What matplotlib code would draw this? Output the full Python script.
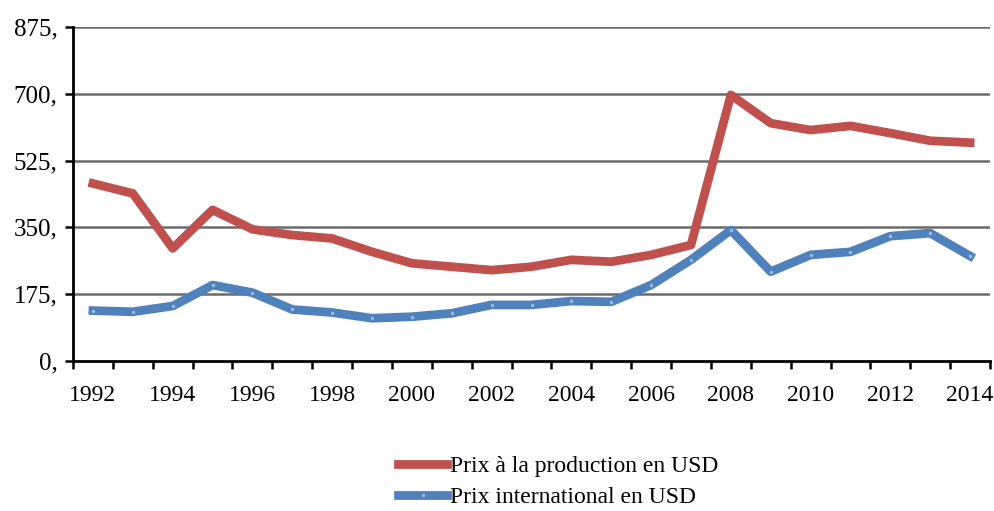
import matplotlib.pyplot as plt
import numpy as np

years = list(range(1992, 2015))
prod = [465, 439, 295, 396, 345, 330, 321, 286, 256, 247, 238, 247, 265, 260,
        278, 304, 697, 623, 605, 616, 597, 577, 572]
intl = [132, 129, 144, 199, 179, 135, 127, 112, 116, 125, 147, 147, 157, 155,
        199, 265, 343, 234, 278, 286, 327, 335, 275]
yticks = [0, 175, 350, 525, 700, 875]

plt.rcParams['font.family'] = ['Liberation Serif', 'DejaVu Serif']

fig = plt.figure(figsize=(9.94, 5.11), dpi=100)
ax = fig.add_axes([73 / 994, 1 - 361 / 511, 917 / 994, 334 / 511])

x = np.arange(len(years))
ax.plot(x, prod, color='#C0504D', lw=6.3, label='Prix à la production en USD')
ax.plot(x, intl, color='#4F81BD', lw=6.3, marker='.', markersize=3, markerfacecolor='#9DB9DC',
        markeredgecolor='#9DB9DC', label='Prix international en USD')

ax.set_xlim(-0.5, len(years) - 0.5)
ax.set_ylim(0, 875)
ax.set_yticks(yticks)
ax.set_yticklabels([f'{v},' for v in yticks], fontsize=18)
for v in yticks[1:]:
    ax.axhline(v, color='#6b6b6b', lw=1.8, zorder=0)

ax.set_xticks(np.arange(-0.5, len(years)), minor=False)
ax.set_xticklabels([])
ax.set_xticks(x[::2], minor=True)
ax.set_xticklabels([str(y) for y in years[::2]], minor=True, fontsize=17)
ax.tick_params(axis='x', which='major', length=6, width=1.8, color='black')
ax.tick_params(axis='x', which='minor', length=0, pad=17)
ax.tick_params(axis='y', length=6, width=1.8, pad=5)

for s in ['top', 'right']:
    ax.spines[s].set_visible(False)
ax.spines['left'].set_linewidth(2)
ax.spines['bottom'].set_linewidth(2)

fig.legend(loc='center', bbox_to_anchor=(558 / 994, 1 - 482 / 511), frameon=False, fontsize=17,
           handlelength=2.1, handletextpad=0.1, labelspacing=0.4, borderpad=0)

fig.savefig('out.png', dpi=100)
